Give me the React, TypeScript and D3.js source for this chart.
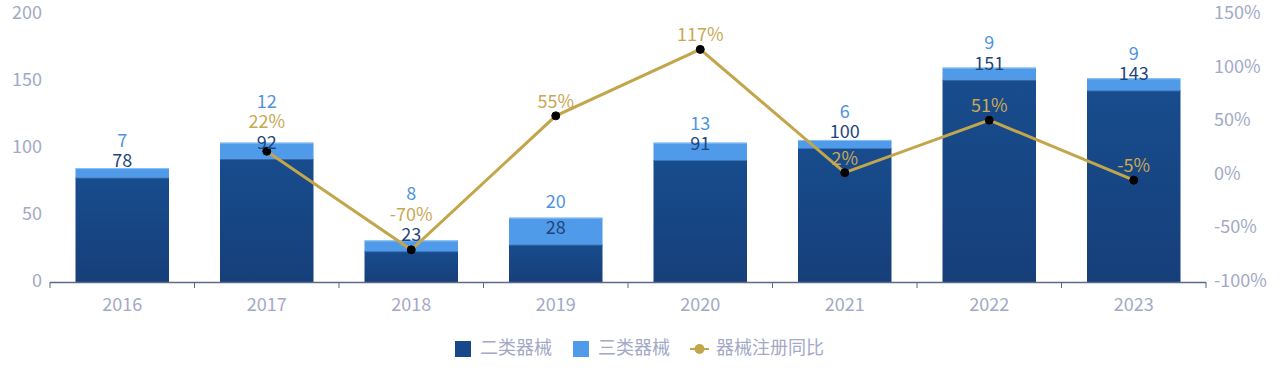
import React from "react";
import * as d3 from "d3";

const years = ["2016", "2017", "2018", "2019", "2020", "2021", "2022", "2023"];
const classII = [78, 92, 23, 28, 91, 100, 151, 143];
const classIII = [7, 12, 8, 20, 13, 6, 9, 9];
const yoy = [null, 22, -70, 55, 117, 2, 51, -5];
const leftTicks = [0, 50, 100, 150, 200];
const rightTicks = [-100, -50, 0, 50, 100, 150];
const legendNames = ["二类器械", "三类器械", "器械注册同比"];

const W = 1280;
const H = 382;
const FONT = "'Noto Sans CJK SC', 'Noto Sans', sans-serif";
const DARK = "#17498a";
const LIGHT = "#4f9bea";
const GOLD = "#c3a64c";
const AXIS_TEXT = "#a3a9c6";

export default function App() {
  const left = 50, right = 1206, top = 14, bottom = 282;
  const x = d3.scaleBand<string>().domain(years).range([left, right]).paddingInner(0.353).paddingOuter(0.1765);
  const xb = d3.scaleBand<string>().domain(years).range([left, right]);
  const y = d3.scaleLinear().domain([0, 200]).range([bottom, top]);
  const y2 = d3.scaleLinear().domain([-100, 150]).range([bottom, top]);

  const pts = years.map((yr, i) => ({ yr, v: yoy[i] })).filter((d) => d.v !== null) as { yr: string; v: number }[];
  const line = d3
    .line<{ yr: string; v: number }>()
    .x((d) => xb(d.yr)! + xb.bandwidth() / 2)
    .y((d) => y2(d.v));

  // label layout with vertical overlap shifting
  const GAP = 20.5;
  const labels: { x: number; y: number; text: string; color: string }[] = [];
  years.forEach((yr, i) => {
    const cx = xb(yr)! + xb.bandwidth() / 2;
    const col: { anchor: number; ny: number; text: string; color: string }[] = [];
    const a1 = y(classII[i]);
    col.push({ anchor: a1, ny: a1 - 18, text: String(classII[i]), color: "#1f467c" });
    const a2 = y(classII[i] + classIII[i]);
    col.push({ anchor: a2, ny: a2 - 18, text: String(classIII[i]), color: "#4f93e0" });
    if (yoy[i] !== null) {
      const a3 = y2(yoy[i] as number);
      col.push({ anchor: a3, ny: a3 - 16, text: `${yoy[i]}%`, color: "#c8a852" });
    }
    col.sort((a, b) => b.anchor - a.anchor);
    let prev = Infinity;
    col.forEach((c) => {
      const yy = Math.min(c.ny, prev - GAP);
      labels.push({ x: cx, y: yy, text: c.text, color: c.color });
      prev = yy;
    });
  });

  const boundaries = [...years.map((yr) => xb(yr)!), right];

  return (
    <svg
      width={W}
      height={H}
      style={{ position: "absolute", left: 0, top: 0, background: "#fff" }}
      fontFamily={FONT}
    >
      <defs>
        <linearGradient id="darkGrad" x1="0" y1="0" x2="0" y2="1">
          <stop offset="0" stopColor="#184c8d" />
          <stop offset="1" stopColor="#163f7a" />
        </linearGradient>
      </defs>
      {leftTicks.map((t) => (
        <text key={"l" + t} x={42} y={y(t) - 3} textAnchor="end" dominantBaseline="central" fontSize={18} fill={AXIS_TEXT}>
          {t}
        </text>
      ))}
      {rightTicks.map((t) => (
        <text key={"r" + t} x={1214} y={y2(t) - 3} textAnchor="start" dominantBaseline="central" fontSize={18} fill={AXIS_TEXT}>
          {t}%
        </text>
      ))}
      {years.map((yr, i) => (
        <g key={yr}>
          <rect
            x={x(yr)}
            y={y(classII[i])}
            width={x.bandwidth()}
            height={bottom - y(classII[i])}
            fill="url(#darkGrad)"
          />
          <rect
            x={x(yr)}
            y={y(classII[i] + classIII[i])}
            width={x.bandwidth()}
            height={y(classII[i]) - y(classII[i] + classIII[i])}
            fill={LIGHT}
          />
          <line
            x1={x(yr)}
            x2={x(yr)! + x.bandwidth()}
            y1={y(classII[i] + classIII[i]) + 0.5}
            y2={y(classII[i] + classIII[i]) + 0.5}
            stroke="#8cc0f3"
            strokeWidth={1}
          />
          <line
            x1={x(yr)}
            x2={x(yr)! + x.bandwidth()}
            y1={y(classII[i]) + 0.5}
            y2={y(classII[i]) + 0.5}
            stroke="#3a77c0"
            strokeWidth={1}
          />
        </g>
      ))}
      <line x1={left} x2={right} y1={bottom + 0.5} y2={bottom + 0.5} stroke="#5b6a86" strokeWidth={1.5} />
      {boundaries.map((bx, i) => (
        <line key={"tk" + i} x1={bx} x2={bx} y1={bottom} y2={bottom + 6} stroke="#5b6a86" strokeWidth={1} />
      ))}
      {years.map((yr) => (
        <text key={"x" + yr} x={xb(yr)! + xb.bandwidth() / 2} y={303} textAnchor="middle" dominantBaseline="central" fontSize={18} fill={AXIS_TEXT}>
          {yr}
        </text>
      ))}
      <path d={line(pts) || ""} fill="none" stroke={GOLD} strokeWidth={3} />
      {pts.map((d) => (
        <circle key={"p" + d.yr} cx={xb(d.yr)! + xb.bandwidth() / 2} cy={y2(d.v)} r={4} fill="#000" stroke="#000" strokeWidth={1} />
      ))}
      {labels.map((l, i) => (
        <text key={"lb" + i} x={l.x} y={l.y} textAnchor="middle" dominantBaseline="central" fontSize={18} fill={l.color}>
          {l.text}
        </text>
      ))}
      <g>
        <rect x={455} y={341} width={16} height={16} fill={DARK} />
        <text x={480} y={346} dominantBaseline="central" fontSize={18} fill={AXIS_TEXT}>
          {legendNames[0]}
        </text>
        <rect x={573} y={341} width={16} height={16} fill={LIGHT} />
        <text x={598} y={346} dominantBaseline="central" fontSize={18} fill={AXIS_TEXT}>
          {legendNames[1]}
        </text>
        <line x1={690} x2={709} y1={349} y2={349} stroke={GOLD} strokeWidth={2} />
        <circle cx={699.5} cy={349} r={5} fill={GOLD} />
        <text x={716} y={346} dominantBaseline="central" fontSize={18} fill={AXIS_TEXT}>
          {legendNames[2]}
        </text>
      </g>
    </svg>
  );
}
